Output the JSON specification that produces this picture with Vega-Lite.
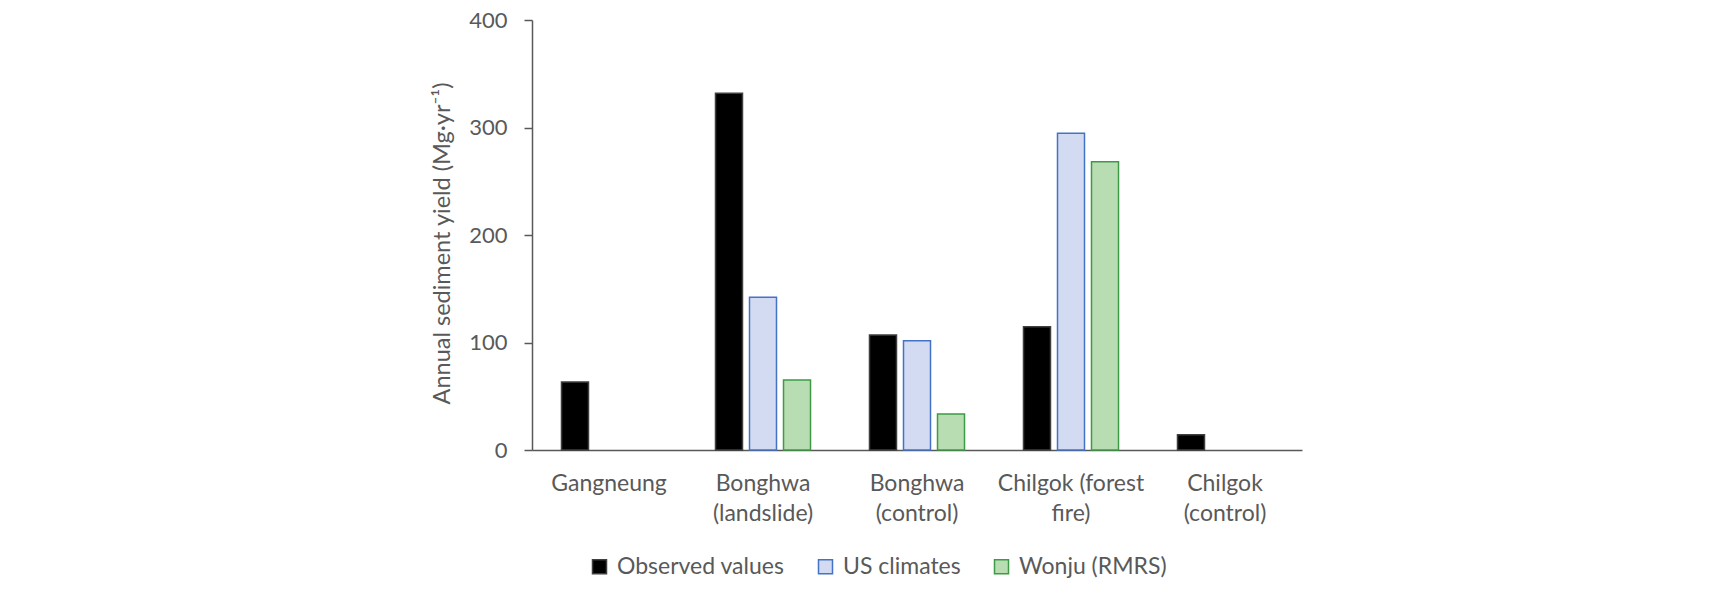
{
  "$schema": "https://vega.github.io/schema/vega-lite/v6.json",
  "width": 770,
  "height": 430,
  "autosize": {"type": "none"},
  "padding": {"left": 532, "top": 20, "right": 428, "bottom": 144},
  "background": "white",
  "config": {
    "font": "Lato",
    "view": {"stroke": null},
    "axis": {"labelColor": "#595959", "titleColor": "#595959", "domainColor": "#595959", "tickColor": "#595959", "grid": false}
  },
  "data": {
    "values": [
      {"site": "Gangneung", "series": "Observed values", "value": 63.3},
      {"site": "Bonghwa (landslide)", "series": "Observed values", "value": 331.8},
      {"site": "Bonghwa (landslide)", "series": "US climates", "value": 142},
      {"site": "Bonghwa (landslide)", "series": "Wonju (RMRS)", "value": 65.1},
      {"site": "Bonghwa (control)", "series": "Observed values", "value": 107},
      {"site": "Bonghwa (control)", "series": "US climates", "value": 101.7},
      {"site": "Bonghwa (control)", "series": "Wonju (RMRS)", "value": 33.5},
      {"site": "Chilgok (forest fire)", "series": "Observed values", "value": 114.7},
      {"site": "Chilgok (forest fire)", "series": "US climates", "value": 294.6},
      {"site": "Chilgok (forest fire)", "series": "Wonju (RMRS)", "value": 268.2},
      {"site": "Chilgok (control)", "series": "Observed values", "value": 14.2}
    ]
  },
  "mark": {"type": "bar", "strokeWidth": 1.5},
  "encoding": {
    "x": {
      "field": "site", "type": "nominal", "sort": null,
      "scale": {"paddingInner": 0.383, "paddingOuter": 0.1915},
      "axis": {
        "title": null, "labelAngle": 0, "ticks": false, "labelFontSize": 23,
        "labelPadding": 22, "labelBaseline": "top", "labelLineHeight": 30,
        "domainWidth": 1.5,
        "labelExpr": "datum.label == 'Chilgok (forest fire)' ? ['Chilgok (forest', 'fire)'] : split(datum.label, ' ')"
      }
    },
    "xOffset": {
      "field": "series", "type": "nominal",
      "scale": {"domain": ["Observed values", "US climates", "Wonju (RMRS)"], "paddingInner": 0.206, "paddingOuter": 0}
    },
    "y": {
      "field": "value", "type": "quantitative",
      "scale": {"domain": [0, 400], "nice": false},
      "axis": {
        "title": "Annual sediment yield (Mg·yr⁻¹)", "titleFontSize": 23.5, "titleFontWeight": "normal",
        "titlePadding": 14, "titleY": 223, "values": [0, 100, 200, 300, 400], "labelFontSize": 22,
        "tickSize": 8, "labelPadding": 17, "domainWidth": 1.5, "tickWidth": 1.5
      }
    },
    "fill": {
      "field": "series", "type": "nominal",
      "scale": {"domain": ["Observed values", "US climates", "Wonju (RMRS)"], "range": ["#000000", "#d3dbf2", "#b9ddb3"]},
      "legend": {
        "title": null, "orient": "none", "direction": "horizontal", "legendX": 56, "legendY": 535,
        "symbolType": "square", "symbolSize": 196, "symbolStrokeWidth": 1.5, "labelLimit": 0,
        "labelFontSize": 23, "labelColor": "#595959", "labelOffset": 6, "columnPadding": 29
      }
    },
    "stroke": {
      "field": "series", "type": "nominal",
      "scale": {"domain": ["Observed values", "US climates", "Wonju (RMRS)"], "range": ["#3f3f3f", "#4472c4", "#3d9b45"]},
      "legend": {
        "title": null, "orient": "none", "direction": "horizontal", "legendX": 56, "legendY": 535,
        "symbolType": "square", "symbolSize": 196, "symbolStrokeWidth": 1.5, "labelLimit": 0,
        "labelFontSize": 23, "labelColor": "#595959", "labelOffset": 6, "columnPadding": 29
      }
    }
  }
}
